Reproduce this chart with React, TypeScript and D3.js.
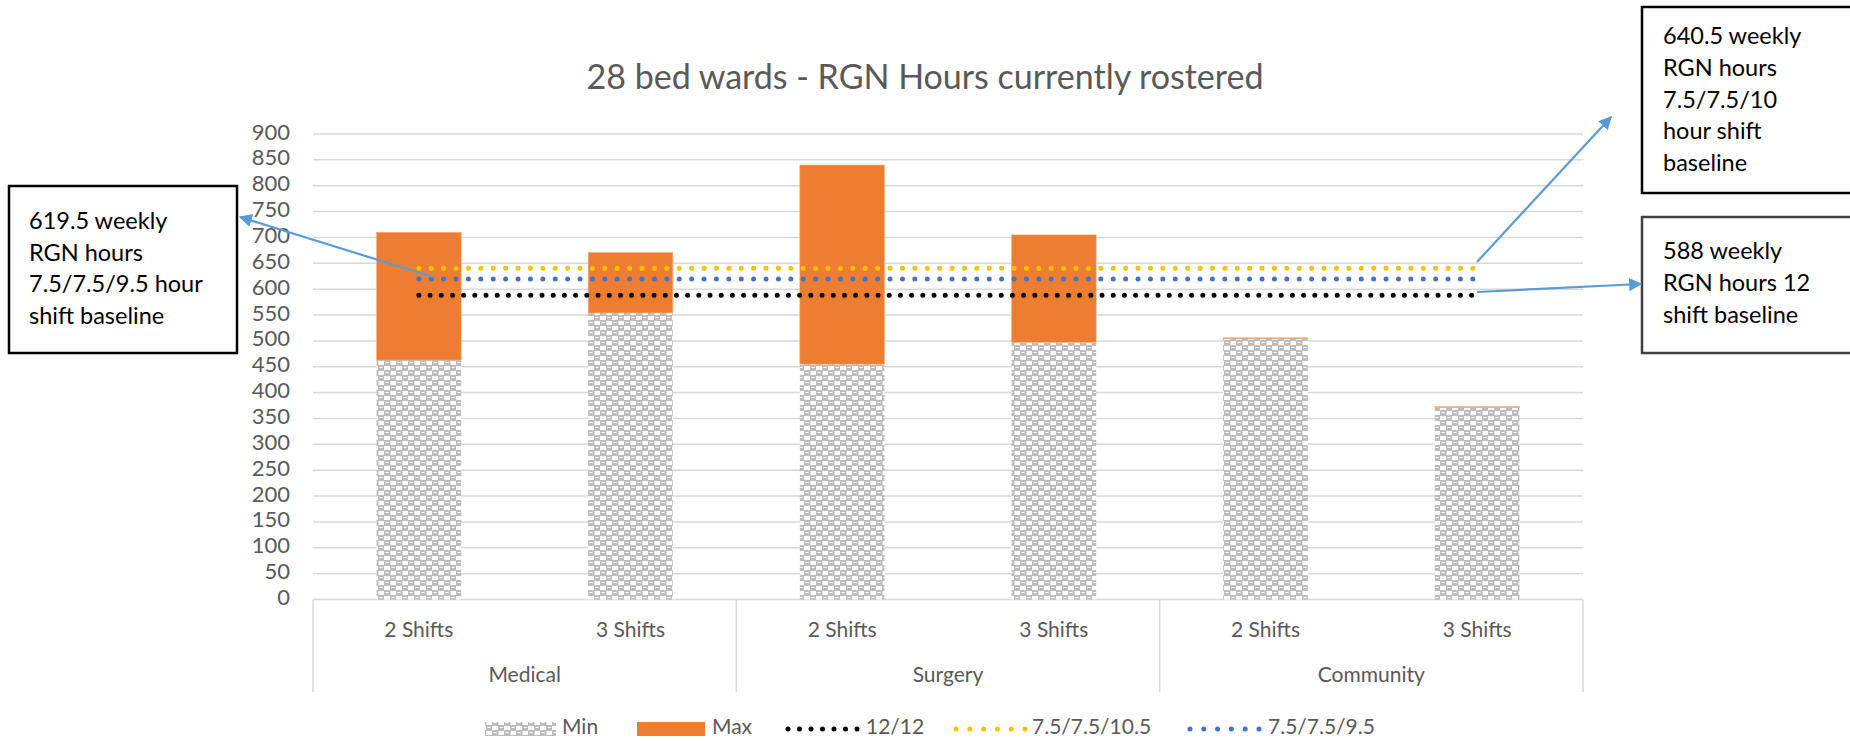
import React from 'react';
import * as d3 from 'd3';

// chart data
const groups = ['Medical', 'Surgery', 'Community'];
const shifts = ['2 Shifts', '3 Shifts'];
const minValues = [463, 554, 455, 497, 505, 372];
const maxValues = [247, 117, 385, 208, 1, 1];
const yTicks = [0, 50, 100, 150, 200, 250, 300, 350, 400, 450, 500, 550, 600, 650, 700, 750, 800, 850, 900];
const baselineNames = ['12/12', '7.5/7.5/10.5', '7.5/7.5/9.5'];
const baselineValues = [588, 640.5, 619.5];

const baselineColors = ['#000000', '#ffc000', '#4472c4'];
const baselineGaps = [11.2, 12.4, 12.4];
const font = 'Lato, "Open Sans", sans-serif';

const W = 1850, H = 741;
const left = 313, right = 1583, top = 134, bottom = 599.5;

const cats = groups.flatMap((g) => shifts.map((s) => g + '|' + s));

export default function App() {
  const x = d3.scaleBand().domain(cats).range([left, right]).paddingInner(0.6).paddingOuter(0.3);
  const y = d3.scaleLinear().domain([0, 900]).range([bottom, top]);
  const step = x.step();
  const cx = (i: number) => (x(cats[i]) as number) + x.bandwidth() / 2;

  const stack = d3.stack().keys(['min', 'max'])(
    cats.map((c, i) => ({ cat: c, min: minValues[i], max: maxValues[i] })) as any
  );

  const groupEdges = groups.map((g, i) => left + i * shifts.length * step).concat([right]);

  const arrow = (x1: number, y1: number, x2: number, y2: number, key: string) => (
    <line key={key} x1={x1} y1={y1} x2={x2} y2={y2} stroke="#5b9bd5" strokeWidth={2.2} markerEnd="url(#arrowHead)" />
  );

  const legendY = 729;

  return (
    <svg width={W} height={H} style={{ position: 'absolute', left: 0, top: 0, background: '#fff' }} fontFamily={font}>
      <defs>
        <pattern id="checks" width={12} height={10} patternUnits="userSpaceOnUse">
          <rect width={12} height={10} fill="#ffffff" />
          <rect x={0} y={0} width={6.5} height={5.5} fill="#bdbdbd" />
          <rect x={6} y={5} width={6.5} height={5.5} fill="#bdbdbd" />
          <rect x={6} y={0} width={6} height={1} fill="#bdbdbd" />
          <rect x={0} y={5} width={6} height={1} fill="#bdbdbd" />
          <rect x={1.5} y={2} width={3} height={1} fill="#ffffff" />
          <rect x={7.5} y={7} width={3} height={1} fill="#ffffff" />
        </pattern>
        <marker id="arrowHead" viewBox="0 0 10 10" refX={9} refY={5} markerWidth={6} markerHeight={6} orient="auto" markerUnits="strokeWidth">
          <path d="M0,0 L10,5 L0,10 z" fill="#5b9bd5" />
        </marker>
      </defs>

      <text x={925} y={80} textAnchor="middle" dominantBaseline="middle" fontSize={34} fill="#595959">
        28 bed wards - RGN Hours currently rostered
      </text>

      {/* gridlines and y ticks */}
      {yTicks.map((t) => (
        <g key={t}>
          <line x1={left} x2={right} y1={y(t)} y2={y(t)} stroke="#d9d9d9" strokeWidth={1.5} />
          <text x={290} y={y(t)} textAnchor="end" dominantBaseline="middle" fontSize={22} fill="#595959">{t}</text>
        </g>
      ))}

      {/* bars */}
      {stack.map((layer, li) => (
        <g key={li}>
          {layer.map((d, i) => (
            <rect
              key={i}
              x={x(cats[i])}
              width={x.bandwidth()}
              y={y(d[1])}
              height={Math.max(y(d[0]) - y(d[1]), 1)}
              fill={li === 0 ? 'url(#checks)' : '#ed7d31'}
              stroke={li === 1 ? '#f4b183' : 'none'}
              strokeWidth={0.6}
            />
          ))}
        </g>
      ))}

      {/* baselines */}
      {baselineValues.map((v, i) => (
        <line
          key={i}
          x1={cx(0)}
          x2={cx(cats.length - 1)}
          y1={y(v)}
          y2={y(v)}
          stroke={baselineColors[i]}
          strokeWidth={5}
          strokeLinecap="round"
          strokeDasharray={`0 ${baselineGaps[i]}`}
        />
      ))}

      {/* category axis */}
      {groupEdges.map((gx, i) => (
        <line key={i} x1={gx} x2={gx} y1={bottom} y2={692} stroke="#d9d9d9" strokeWidth={1.5} />
      ))}
      {cats.map((c, i) => (
        <text key={c} x={cx(i)} y={632} textAnchor="middle" dominantBaseline="middle" fontSize={21} fill="#595959">
          {shifts[i % shifts.length]}
        </text>
      ))}
      {groups.map((g, i) => (
        <text key={g} x={(groupEdges[i] + groupEdges[i + 1]) / 2} y={677} textAnchor="middle" dominantBaseline="middle" fontSize={21} fill="#595959">
          {g}
        </text>
      ))}

      {/* legend */}
      <rect x={485} y={legendY - 7} width={71} height={14} fill="url(#checks)" />
      <text x={562} y={legendY} dominantBaseline="middle" fontSize={21} fill="#595959">Min</text>
      <rect x={637} y={legendY - 7} width={68} height={14} fill="#ed7d31" />
      <text x={712} y={legendY} dominantBaseline="middle" fontSize={21} fill="#595959">Max</text>
      {[788, 956, 1190].map((lx, i) => (
        <g key={i}>
          <line x1={lx} x2={lx + 70} y1={legendY} y2={legendY} stroke={baselineColors[i]} strokeWidth={5} strokeLinecap="round" strokeDasharray={`0 ${i === 0 ? 11.5 : 13.8}`} />
          <text x={[866, 1032, 1268][i]} y={legendY} dominantBaseline="middle" fontSize={21} fill="#595959">{baselineNames[i]}</text>
        </g>
      ))}

      {/* annotations */}
      <rect x={9} y={186} width={228} height={167} fill="#fff" stroke="#000" strokeWidth={2.5} />
      {['619.5 weekly', 'RGN hours', '7.5/7.5/9.5 hour', 'shift baseline'].map((t, i) => (
        <text key={t} x={29} y={223 + i * 31.7} dominantBaseline="middle" fontSize={23.5} fill="#000">{t}</text>
      ))}
      <rect x={1642} y={7} width={230} height={186} fill="#fff" stroke="#000" strokeWidth={2.5} />
      {['640.5 weekly', 'RGN hours', '7.5/7.5/10', 'hour shift', 'baseline'].map((t, i) => (
        <text key={t} x={1663} y={38 + i * 31.8} dominantBaseline="middle" fontSize={23.5} fill="#000">{t}</text>
      ))}
      <rect x={1642} y={217} width={230} height={136} fill="#fff" stroke="#404040" strokeWidth={2.5} />
      {['588 weekly', 'RGN hours 12', 'shift baseline'].map((t, i) => (
        <text key={t} x={1663} y={253 + i * 31.8} dominantBaseline="middle" fontSize={23.5} fill="#000">{t}</text>
      ))}

      {arrow(433, 277, 240, 217, 'a1')}
      {arrow(1477, 262, 1611, 117, 'a2')}
      {arrow(1477, 292, 1641, 284, 'a3')}
    </svg>
  );
}
